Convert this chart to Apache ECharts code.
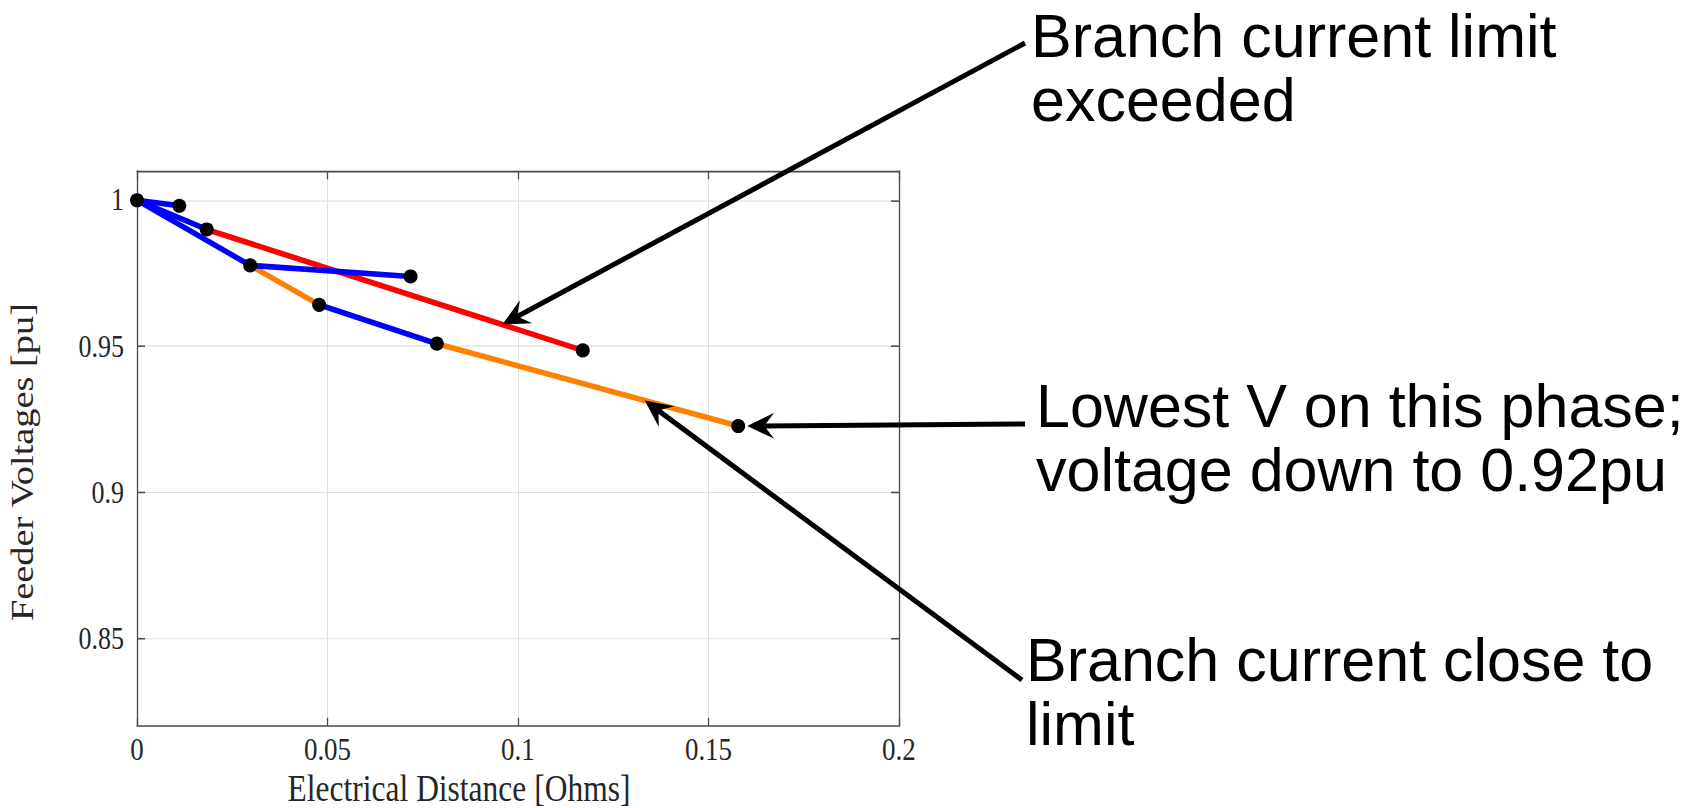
<!DOCTYPE html>
<html>
<head>
<meta charset="utf-8">
<title>Feeder voltage profile</title>
<script src="https://cdn.jsdelivr.net/npm/echarts@6/dist/echarts.min.js"></script>
<style>
  html, body { margin: 0; padding: 0; background: #fff; }
  #page { position: relative; width: 1705px; height: 808px; overflow: hidden; background: #fff; }
  #plot { position: absolute; left: 0; top: 0; width: 1705px; height: 700px; transform-origin: 0 0; }
  #notes { position: absolute; left: 0; top: 0; width: 1705px; height: 808px; }
</style>
</head>
<body>
<div id="page">
  <div id="plot"></div>
  <div id="notes"></div>
</div>
<script>
// Feeder nodes: electrical distance from the substation [Ohms] and voltage [pu]
const nodeDistance = [0, 0.0111, 0.0183, 0.0297, 0.0718, 0.0478, 0.0787, 0.1170, 0.1578];
const nodeVoltage  = [1.0, 0.9981, 0.9900, 0.9777, 0.9739, 0.9642, 0.9509, 0.9486, 0.9227];

// Branches (from node -> to node) and their current loading status
const branchFrom   = [0, 0, 2, 0, 3, 3, 5, 6];
const branchTo     = [1, 2, 7, 3, 4, 5, 6, 8];
const branchStatus = ['normal', 'normal', 'exceeded', 'normal', 'normal', 'close', 'normal', 'close'];

// Axis ticks
const distanceTicks = [0, 0.05, 0.1, 0.15, 0.2];
const voltageTicks  = [0.85, 0.9, 0.95, 1];

// Callout texts
const noteExceeded = ['Branch current limit', 'exceeded'];
const noteLowest   = ['Lowest V on this phase;', 'voltage down to 0.92pu'];
const noteClose    = ['Branch current close to', 'limit'];

// ---------------------------------------------------------------------------
// The plot panel is drawn in compressed units and stretched vertically by K.
const K = 808 / 685;
const plotDiv = document.getElementById('plot');
plotDiv.style.transform = 'scaleY(' + K + ')';

const statusColor = { normal: '#0000ff', exceeded: '#ff0000', close: '#ff8000' };
const statusZ = { exceeded: 2, close: 3, normal: 4 };
const serif = '"Liberation Serif", "Times New Roman", serif';
const boxColor = '#4a4a4a';
const textColor = '#262626';
const fmt = v => String(+(+v).toFixed(3));

const branchSeries = branchFrom.map((f, i) => {
  const t = branchTo[i];
  return {
    type: 'line',
    xAxisIndex: 0, yAxisIndex: 0,
    data: [[nodeDistance[f], nodeVoltage[f]], [nodeDistance[t], nodeVoltage[t]]],
    symbol: 'none',
    silent: true,
    z: statusZ[branchStatus[i]],
    lineStyle: { color: statusColor[branchStatus[i]], width: 4.8, cap: 'butt', opacity: 1 }
  };
});

const nodeSeries = {
  type: 'scatter',
  xAxisIndex: 0, yAxisIndex: 0,
  data: nodeDistance.map((d, i) => [d, nodeVoltage[i]]),
  symbol: 'circle',
  symbolSize: [14, 12],
  itemStyle: { color: '#000', opacity: 1 },
  silent: true,
  z: 10
};

const frameAxis = {
  axisLine: { onZero: false, lineStyle: { color: boxColor, width: 1.3 } },
  axisTick: { inside: true, length: 7, lineStyle: { color: boxColor, width: 1.3 } }
};

const plot = echarts.init(plotDiv, null, { renderer: 'svg' });
plot.setOption({
  animation: false,
  backgroundColor: 'transparent',
  grid: { left: 137, top: 145, width: 762, height: 470.5, outerBoundsMode: 'none', containLabel: false },
  xAxis: [
    {
      type: 'value', min: 0, max: 0.2, position: 'bottom',
      axisLine: frameAxis.axisLine,
      axisTick: Object.assign({ customValues: distanceTicks }, frameAxis.axisTick),
      axisLabel: { customValues: distanceTicks, margin: 6, fontFamily: serif, fontSize: 27, color: textColor, formatter: fmt },
      splitLine: { show: true, lineStyle: { color: '#e0e0e0', width: 1 } },
      name: 'Electrical Distance [Ohms]', nameLocation: 'middle', nameGap: 37, nameMoveOverlap: false,
      nameTextStyle: { fontFamily: serif, fontSize: 31.5, color: textColor, padding: [0, 118, 0, 0] }
    },
    {
      type: 'value', min: 0, max: 0.2, position: 'top',
      axisLine: frameAxis.axisLine,
      axisTick: Object.assign({ customValues: distanceTicks }, frameAxis.axisTick),
      axisLabel: { show: false }, splitLine: { show: false }
    }
  ],
  yAxis: [
    {
      type: 'value', min: 0.82, max: 1.01, position: 'left',
      axisLine: frameAxis.axisLine,
      axisTick: Object.assign({ customValues: voltageTicks }, frameAxis.axisTick, { length: 8 }),
      axisLabel: { customValues: voltageTicks, margin: 13, fontFamily: serif, fontSize: 26, color: textColor, formatter: fmt },
      splitLine: { show: true, lineStyle: { color: '#e0e0e0', width: 1 } },
      name: 'Feeder Voltages [pu]', nameLocation: 'middle', nameGap: 98, nameMoveOverlap: false,
      nameTextStyle: { fontFamily: serif, fontSize: 32.5, color: textColor, padding: [0, 23, 0, 0] }
    },
    {
      type: 'value', min: 0.82, max: 1.01, position: 'right',
      axisLine: frameAxis.axisLine,
      axisTick: Object.assign({ customValues: voltageTicks }, frameAxis.axisTick, { length: 8 }),
      axisLabel: { show: false }, splitLine: { show: false }
    }
  ],
  series: branchSeries.concat([nodeSeries])
});

// ---------------------------------------------------------------------------
// Callouts drawn unstretched on top of the plot
const notes = echarts.init(document.getElementById('notes'), null, { renderer: 'svg' });

function toPage(x, y) {
  const p = plot.convertToPixel({ gridIndex: 0 }, [x, y]);
  return [p[0], p[1] * K];
}
function onBranch(i, t) {
  const f = branchFrom[i], e = branchTo[i];
  return toPage(nodeDistance[f] + (nodeDistance[e] - nodeDistance[f]) * t,
                nodeVoltage[f] + (nodeVoltage[e] - nodeVoltage[f]) * t);
}

function arrow(tail, tip) {
  const dx = tip[0] - tail[0], dy = tip[1] - tail[1];
  const len = Math.hypot(dx, dy);
  const ux = dx / len, uy = dy / len, px = -uy, py = ux;
  const L = 27, W = 13, N = 17;
  const back = [tip[0] - ux * L, tip[1] - uy * L];
  const notch = [tip[0] - ux * N, tip[1] - uy * N];
  return [
    { type: 'line', shape: { x1: tail[0], y1: tail[1], x2: notch[0], y2: notch[1] },
      style: { stroke: '#000', lineWidth: 5 }, silent: true },
    { type: 'polygon',
      shape: { points: [tip, [back[0] + px * W, back[1] + py * W], notch, [back[0] - px * W, back[1] - py * W]] },
      style: { fill: '#000' }, silent: true }
  ];
}

function note(lines, left, top) {
  return {
    type: 'text', x: left, y: top, silent: true,
    style: {
      text: lines.join('\n'), fill: '#000',
      fontFamily: '"Liberation Sans", Arial, sans-serif', fontSize: 61, lineHeight: 64,
      align: 'left', verticalAlign: 'top'
    }
  };
}

const lowNode = toPage(nodeDistance[8], nodeVoltage[8]);
const tipExceeded = onBranch(2, 0.786);
const tipLowest = [lowNode[0] + 9, lowNode[1]];
const tipClose = onBranch(7, 0.69);

notes.setOption({
  animation: false,
  backgroundColor: 'transparent',
  graphic: [].concat(
    arrow([1025, 43], tipExceeded),
    arrow([1025, 424], tipLowest),
    arrow([1022, 680], tipClose),
    [note(noteExceeded, 1031, 4), note(noteLowest, 1036, 374), note(noteClose, 1026, 628)]
  )
});
</script>
</body>
</html>
